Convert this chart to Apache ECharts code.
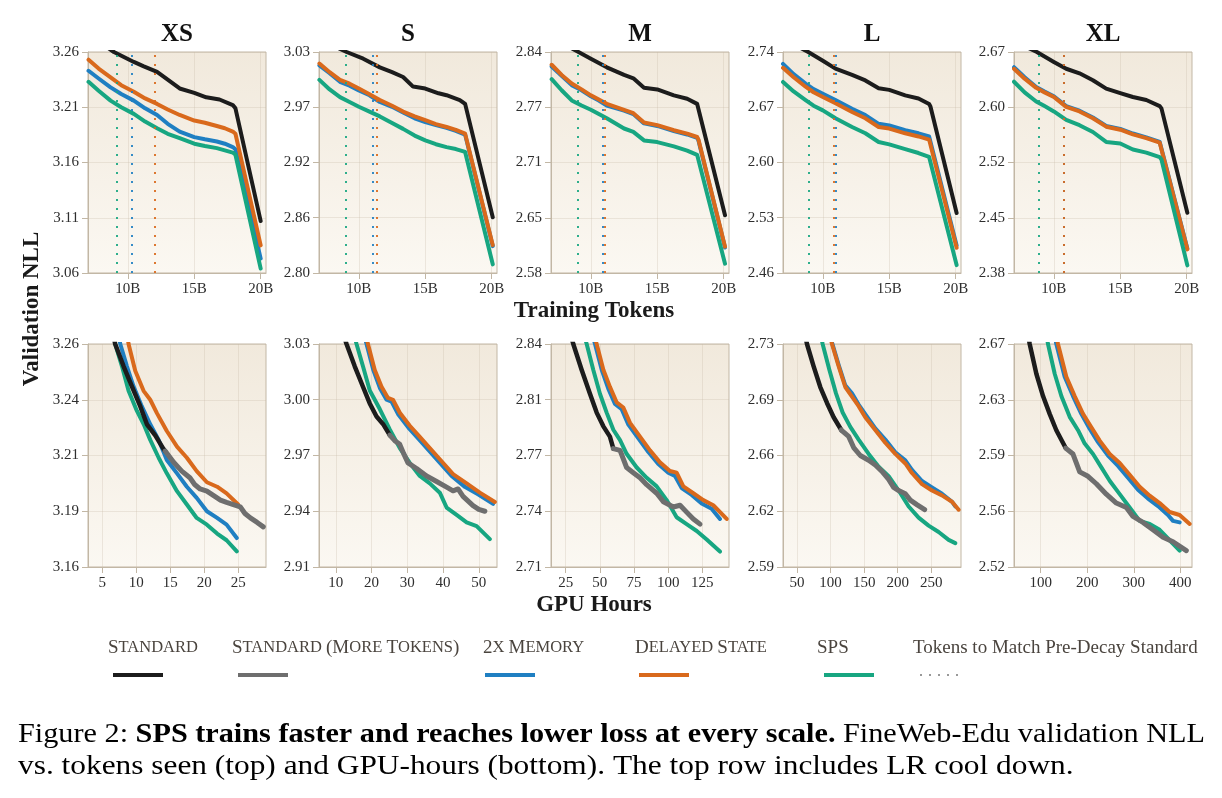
<!DOCTYPE html>
<html>
<head>
<meta charset="utf-8">
<script src="https://cdn.jsdelivr.net/npm/echarts@6/dist/echarts.min.js"></script>
<style>
  html, body { margin: 0; padding: 0; background: #fff; }
  #chart { width: 1222px; height: 798px; }
</style>
</head>
<body>
<div id="chart"></div>
<script>
// 模型规模
const scales = ['XS', 'S', 'M', 'L', 'XL'];

// 上排：训练 token（B）
const tokXRange = [7.0, 20.4];
const tokXTicks = [10, 15, 20];
const tokYRange = [[3.06, 3.26], [2.80, 3.03], [2.58, 2.84], [2.46, 2.74], [2.38, 2.67]];
const tokYLabels = [
  ['3.06', '3.11', '3.16', '3.21', '3.26'],
  ['2.80', '2.86', '2.92', '2.97', '3.03'],
  ['2.58', '2.65', '2.71', '2.77', '2.84'],
  ['2.46', '2.53', '2.60', '2.67', '2.74'],
  ['2.38', '2.45', '2.52', '2.60', '2.67'],
];

// 下排：GPU 小时
const gpuXRange = [[2.9, 29.1], [5.3, 55.1], [14.3, 144.5], [29.2, 294.2], [42.7, 425]];
const gpuXTicks = [[5, 10, 15, 20, 25], [10, 20, 30, 40, 50], [25, 50, 75, 100, 125], [50, 100, 150, 200, 250], [100, 200, 300, 400]];
const gpuYRange = [[3.16, 3.26], [2.91, 3.03], [2.71, 2.84], [2.59, 2.73], [2.52, 2.67]];
const gpuYLabels = [
  ['3.16', '3.19', '3.21', '3.24', '3.26'],
  ['2.91', '2.94', '2.97', '3.00', '3.03'],
  ['2.71', '2.74', '2.77', '2.81', '2.84'],
  ['2.59', '2.62', '2.66', '2.69', '2.73'],
  ['2.52', '2.56', '2.59', '2.63', '2.67'],
];

// 上排曲线 [tokens(B), NLL]
const tokStandard = [
  [[7.0,3.278],[8.0,3.268],[8.95,3.260],[10.45,3.251],[11.2,3.247],[12.2,3.242],[13.0,3.235],[13.9,3.227],[15.0,3.223],[15.9,3.219],[16.9,3.217],[17.9,3.212],[18.1,3.209],[20.0,3.107]],
  [[7.0,3.045],[8.0,3.037],[9.08,3.030],[10.33,3.023],[11.58,3.014],[12.5,3.009],[13.33,3.004],[14.08,2.994],[15.0,2.992],[16.0,2.987],[16.6,2.985],[17.6,2.980],[18.0,2.976],[18.1,2.975],[20.08,2.858]],
  [[7.0,2.858],[8.0,2.849],[9.07,2.840],[10.0,2.832],[11.2,2.822],[12.5,2.813],[13.2,2.809],[14.0,2.798],[15.0,2.796],[16.25,2.789],[17.25,2.785],[18.0,2.779],[18.1,2.777],[20.1,2.648]],
  [[7.0,2.758],[8.0,2.748],[8.9,2.740],[10.0,2.729],[10.95,2.719],[12.2,2.711],[13.2,2.704],[14.2,2.694],[15.0,2.692],[16.2,2.685],[17.2,2.681],[18.0,2.674],[18.1,2.671],[20.07,2.536]],
  [[7.0,2.683],[8.0,2.676],[8.72,2.670],[10.0,2.657],[10.93,2.648],[11.93,2.642],[12.94,2.633],[13.94,2.622],[15.0,2.616],[15.95,2.611],[16.96,2.607],[17.97,2.599],[18.1,2.596],[20.05,2.459]],
];
const tokMemory = [
  [[7.04,3.243],[7.8,3.236],[8.7,3.228],[9.5,3.222],[10.45,3.216],[11.3,3.209],[12.2,3.203],[13.0,3.195],[13.9,3.188],[15.0,3.183],[15.8,3.181],[16.7,3.179],[17.3,3.177],[17.9,3.174],[18.1,3.172],[20.0,3.073]],
  [[7.03,3.016],[7.8,3.008],[8.58,2.999],[9.3,2.995],[10.0,2.990],[10.8,2.985],[11.58,2.978],[12.5,2.973],[13.33,2.967],[14.2,2.961],[15.0,2.957],[15.8,2.954],[16.6,2.951],[17.3,2.948],[18.0,2.944],[18.1,2.943],[20.08,2.828]],
  [[7.05,2.823],[7.8,2.812],[8.56,2.801],[9.3,2.795],[10.0,2.788],[10.6,2.783],[11.2,2.777],[12.5,2.771],[13.2,2.767],[14.0,2.756],[15.0,2.753],[16.25,2.747],[17.25,2.743],[18.0,2.739],[18.1,2.736],[20.1,2.610]],
  [[7.0,2.725],[7.8,2.712],[8.7,2.700],[9.3,2.693],[10.0,2.687],[10.95,2.679],[12.2,2.668],[13.2,2.660],[14.2,2.649],[15.0,2.647],[16.2,2.641],[17.2,2.637],[18.0,2.633],[18.1,2.631],[20.07,2.495]],
  [[7.0,2.650],[7.8,2.637],[8.67,2.624],[9.3,2.618],[10.0,2.612],[10.93,2.599],[11.93,2.593],[12.94,2.584],[13.94,2.573],[15.0,2.569],[15.95,2.563],[16.96,2.558],[17.97,2.552],[18.1,2.550],[20.05,2.412]],
];
const tokDelayed = [
  [[7.04,3.253],[7.8,3.245],[8.7,3.237],[9.5,3.230],[10.45,3.224],[11.3,3.218],[12.2,3.213],[13.0,3.208],[13.9,3.203],[15.0,3.198],[15.8,3.196],[16.7,3.193],[17.3,3.191],[17.9,3.188],[18.1,3.186],[20.0,3.085]],
  [[7.03,3.018],[7.8,3.009],[8.58,3.001],[9.3,2.997],[10.0,2.992],[10.8,2.986],[11.58,2.980],[12.5,2.974],[13.33,2.968],[14.2,2.963],[15.0,2.959],[15.8,2.955],[16.6,2.952],[17.3,2.949],[18.0,2.945],[18.1,2.944],[20.08,2.829]],
  [[7.05,2.825],[7.8,2.813],[8.56,2.803],[9.3,2.796],[10.0,2.789],[10.6,2.784],[11.2,2.779],[12.5,2.772],[13.2,2.768],[14.0,2.757],[15.0,2.754],[16.25,2.748],[17.25,2.744],[18.0,2.740],[18.1,2.737],[20.1,2.611]],
  [[7.0,2.720],[7.8,2.708],[8.7,2.696],[9.3,2.689],[10.0,2.683],[10.95,2.675],[12.2,2.664],[13.2,2.656],[14.2,2.645],[15.0,2.643],[16.2,2.637],[17.2,2.633],[18.0,2.629],[18.1,2.627],[20.07,2.492]],
  [[7.0,2.648],[7.8,2.635],[8.67,2.623],[9.3,2.617],[10.0,2.611],[10.93,2.598],[11.93,2.592],[12.94,2.583],[13.94,2.572],[15.0,2.568],[15.95,2.562],[16.96,2.557],[17.97,2.551],[18.1,2.549],[20.05,2.411]],
];
const tokSps = [
  [[7.04,3.233],[7.8,3.225],[8.7,3.216],[9.5,3.210],[10.45,3.204],[11.3,3.197],[12.2,3.191],[13.0,3.186],[13.9,3.182],[15.0,3.177],[15.8,3.175],[16.7,3.173],[17.3,3.171],[17.9,3.169],[18.1,3.167],[20.0,3.064]],
  [[7.03,3.001],[7.8,2.991],[8.58,2.983],[9.3,2.978],[10.0,2.973],[10.8,2.968],[11.58,2.963],[12.5,2.956],[13.33,2.950],[14.2,2.943],[15.0,2.938],[15.8,2.934],[16.6,2.931],[17.3,2.929],[18.0,2.926],[18.1,2.924],[20.08,2.809]],
  [[7.05,2.808],[7.8,2.795],[8.56,2.783],[9.3,2.777],[10.0,2.772],[10.6,2.767],[11.2,2.762],[12.5,2.750],[13.2,2.746],[14.0,2.736],[15.0,2.734],[16.25,2.729],[17.25,2.724],[18.0,2.719],[18.1,2.717],[20.1,2.591]],
  [[7.0,2.702],[7.8,2.690],[8.7,2.679],[9.3,2.672],[10.0,2.666],[10.95,2.656],[12.2,2.645],[13.2,2.637],[14.2,2.626],[15.0,2.623],[16.2,2.617],[17.2,2.612],[18.0,2.607],[18.1,2.605],[20.07,2.470]],
  [[7.0,2.631],[7.8,2.617],[8.67,2.605],[9.3,2.599],[10.0,2.592],[10.93,2.581],[11.93,2.574],[12.94,2.565],[13.94,2.552],[15.0,2.550],[15.95,2.542],[16.96,2.538],[17.97,2.532],[18.1,2.529],[20.05,2.390]],
];

// 达到 Standard 衰减前损失所需 token（虚线）
const matchSps = [9.16, 9.03, 8.99, 8.94, 8.87];
const matchMemory = [10.33, 11.08, 10.86, 11.0, 10.73];
const matchDelayed = [12.0, 11.33, 11.06, 10.85, 10.78];

// 下排曲线 [GPU 小时, NLL]
const gpuStandard = [
  [[6.4,3.268],[6.9,3.260],[8.14,3.250],[9.36,3.241],[10.6,3.232],[11.57,3.224],[12.8,3.219],[14.0,3.213],[14.26,3.212]],
  [[12.0,3.036],[13.0,3.030],[15.3,3.018],[17.6,3.007],[19.5,2.998],[21.4,2.991],[23.2,2.987],[25.1,2.981]],
  [[28.5,2.846],[30.6,2.840],[36.7,2.825],[42.8,2.811],[47.7,2.800],[52.6,2.792],[57.4,2.786],[59.9,2.779]],
  [[61.0,2.738],[64.9,2.730],[74.8,2.716],[84.7,2.703],[94.7,2.693],[104.6,2.684],[116.0,2.676]],
  [[72.0,2.678],[76.4,2.670],[90.7,2.650],[105.0,2.635],[119.3,2.623],[133.6,2.612],[153.7,2.600]],
];
const gpuMoreTokens = [
  [[14.26,3.212],[15.5,3.207],[16.7,3.203],[17.9,3.200],[18.6,3.197],[19.4,3.195],[20.4,3.194],[21.4,3.192],[22.4,3.190],[23.3,3.189],[24.3,3.188],[25.3,3.187],[26.0,3.184],[26.8,3.182],[27.8,3.180],[28.7,3.178]],
  [[25.1,2.981],[26.5,2.978],[27.9,2.976],[29.0,2.971],[30.2,2.966],[32.6,2.963],[35.4,2.959],[38.2,2.956],[41.0,2.953],[42.8,2.951],[44.2,2.952],[45.6,2.948],[48.4,2.943],[50.0,2.941],[51.7,2.940]],
  [[59.9,2.779],[64.8,2.778],[69.6,2.768],[74.5,2.765],[79.4,2.762],[84.3,2.758],[91.6,2.753],[96.5,2.748],[103.8,2.745],[108.7,2.746],[113.5,2.742],[118.4,2.738],[123.3,2.735]],
  [[116.0,2.676],[126.9,2.672],[134.4,2.665],[144.3,2.660],[156.7,2.657],[166.6,2.654],[176.6,2.650],[186.5,2.645],[193.9,2.640],[201.4,2.638],[211.3,2.636],[218.7,2.632],[229.0,2.629],[240.1,2.626]],
  [[153.7,2.600],[169.4,2.596],[183.8,2.584],[201.6,2.581],[219.5,2.576],[241.0,2.569],[262.5,2.563],[284.0,2.560],[298.3,2.554],[319.8,2.550],[341.2,2.545],[362.7,2.540],[384.2,2.537],[412.8,2.531]],
];
const gpuMemory = [
  [[7.2,3.268],[7.65,3.260],[8.63,3.250],[9.6,3.241],[10.83,3.232],[12.06,3.224],[13.3,3.217],[14.5,3.208],[16.0,3.202],[17.45,3.196],[18.9,3.191],[20.4,3.185],[21.9,3.182],[23.3,3.179],[24.8,3.173]],
  [[17.8,3.036],[18.6,3.030],[20.5,3.016],[22.4,3.006],[24.2,3.000],[25.6,2.999],[27.5,2.992],[30.3,2.985],[33.1,2.979],[35.9,2.973],[38.7,2.967],[42.4,2.959],[46.2,2.953],[49.9,2.949],[54.0,2.944]],
  [[44.3,2.846],[46.5,2.840],[51.4,2.825],[56.2,2.814],[61.1,2.805],[66.0,2.802],[70.9,2.793],[78.2,2.785],[85.5,2.777],[92.8,2.770],[100.1,2.765],[105.0,2.763],[109.9,2.756],[117.2,2.752],[124.5,2.747],[131.8,2.744],[137.9,2.738]],
  [[98.0,2.739],[102.1,2.731],[112.0,2.717],[121.9,2.704],[131.9,2.699],[141.8,2.692],[151.7,2.686],[166.6,2.677],[181.5,2.670],[196.4,2.662],[211.3,2.657],[221.2,2.651],[236.1,2.644],[251.0,2.640],[265.9,2.636],[280.8,2.631],[285.7,2.628]],
  [[128.5,2.678],[133.6,2.670],[151.5,2.648],[169.4,2.635],[187.3,2.623],[205.2,2.613],[223.1,2.604],[244.6,2.595],[266.1,2.588],[287.5,2.580],[309.0,2.572],[330.5,2.566],[351.9,2.561],[373.4,2.555],[384.2,2.551],[398.5,2.550]],
];
const gpuDelayed = [
  [[8.5,3.268],[8.87,3.260],[9.85,3.248],[11.08,3.239],[12.06,3.235],[13.04,3.229],[14.5,3.221],[16.0,3.214],[17.45,3.209],[18.9,3.203],[20.4,3.198],[21.9,3.196],[23.3,3.193],[25.0,3.188]],
  [[18.2,3.036],[19.0,3.030],[20.9,3.016],[22.8,3.007],[24.6,3.001],[26.0,3.000],[27.9,2.993],[30.7,2.986],[33.5,2.980],[36.3,2.974],[39.1,2.968],[42.8,2.960],[46.6,2.955],[50.3,2.950],[54.5,2.945]],
  [[45.5,2.846],[47.7,2.840],[52.6,2.825],[57.4,2.815],[62.3,2.806],[67.2,2.803],[72.1,2.794],[79.4,2.786],[86.7,2.778],[94.0,2.771],[101.3,2.766],[106.2,2.765],[111.1,2.757],[118.4,2.753],[125.7,2.749],[133.0,2.746],[142.8,2.738]],
  [[98.0,2.738],[102.1,2.730],[112.0,2.716],[121.9,2.703],[131.9,2.697],[141.8,2.691],[151.7,2.684],[166.6,2.676],[181.5,2.668],[196.4,2.661],[211.3,2.655],[221.2,2.649],[236.1,2.642],[251.0,2.638],[265.9,2.635],[280.8,2.631],[290.7,2.626]],
  [[132.0,2.678],[137.2,2.670],[155.1,2.648],[173.0,2.635],[190.9,2.623],[208.8,2.614],[226.7,2.605],[248.2,2.596],[269.7,2.590],[291.1,2.582],[312.6,2.574],[334.1,2.568],[355.5,2.563],[377.0,2.557],[398.5,2.555],[420.0,2.549]],
];
const gpuSps = [
  [[6.5,3.268],[6.9,3.260],[7.9,3.250],[8.87,3.239],[10.1,3.230],[11.1,3.224],[12.06,3.217],[13.3,3.209],[14.5,3.202],[16.0,3.194],[17.45,3.188],[18.9,3.182],[20.4,3.179],[21.9,3.175],[23.3,3.172],[24.8,3.167]],
  [[15.0,3.036],[15.8,3.030],[17.6,3.018],[19.5,3.005],[22.3,2.995],[25.1,2.984],[27.9,2.974],[30.7,2.966],[33.5,2.959],[36.3,2.955],[39.1,2.950],[41.0,2.942],[43.8,2.938],[46.6,2.934],[49.4,2.932],[53.1,2.925]],
  [[38.2,2.846],[40.4,2.840],[45.2,2.825],[50.1,2.811],[55.0,2.800],[59.9,2.790],[64.8,2.784],[69.6,2.776],[77.0,2.768],[84.3,2.762],[91.6,2.757],[98.9,2.749],[106.2,2.739],[113.5,2.735],[120.9,2.731],[128.2,2.726],[137.9,2.719]],
  [[84.5,2.738],[88.2,2.730],[98.1,2.714],[108.1,2.699],[118.0,2.687],[129.4,2.678],[141.8,2.670],[156.7,2.661],[171.6,2.653],[186.5,2.647],[201.4,2.638],[216.3,2.628],[231.1,2.621],[246.0,2.616],[260.9,2.612],[275.8,2.607],[285.7,2.605]],
  [[111.0,2.678],[115.7,2.670],[130.1,2.650],[144.4,2.635],[162.3,2.621],[180.2,2.612],[194.5,2.603],[212.4,2.596],[230.3,2.587],[248.2,2.578],[269.7,2.569],[291.1,2.560],[312.6,2.551],[334.1,2.549],[355.5,2.545],[377.0,2.538],[398.5,2.531]],
];

// 颜色
const C = {
  standard: '#1c1c1c',
  more: '#6e6e6e',
  memory: '#1f7fc2',
  delayed: '#d9691c',
  sps: '#17a681',
};

const FONT = 'Liberation Serif';
const AXIS_COLOR = '#c2b7a5';
const GRID_LINE = 'rgba(196,184,165,0.28)';
const colLeft = [88, 319, 551, 783, 1014];
const plotW = 178;
const rowTop = [52, 344];
const rowH = [221, 223];

const grids = [], xAxes = [], yAxes = [], series = [];

const makeTicks = (range) => [0, 1, 2, 3, 4].map(i => range[0] + (range[1] - range[0]) * i / 4);

function addPanel(row, col, xRange, xTicks, xFmt, yRange, yLabels) {
  const g = grids.length;
  grids.push({
    left: colLeft[col], top: rowTop[row], width: plotW, height: rowH[row],
    show: true, borderColor: AXIS_COLOR, borderWidth: 1,
    backgroundColor: new echarts.graphic.LinearGradient(0, 0, 0, 1, [
      { offset: 0, color: '#f1e9dc' },
      { offset: 1, color: '#fbf8f2' },
    ]),
  });
  xAxes.push({
    type: 'value', gridIndex: g, min: xRange[0], max: xRange[1],
    axisLine: { show: true, onZero: false, lineStyle: { color: AXIS_COLOR } },
    axisTick: { show: true, length: 6, customValues: xTicks, lineStyle: { color: AXIS_COLOR } },
    axisLabel: { customValues: xTicks, formatter: xFmt, margin: 9, fontSize: 15, color: '#2e2e2e', fontFamily: FONT },
    splitLine: { show: true, lineStyle: { color: GRID_LINE } },
  });
  const yTicks = makeTicks(yRange);
  yAxes.push({
    type: 'value', gridIndex: g, min: yRange[0], max: yRange[1],
    axisLine: { show: true, onZero: false, lineStyle: { color: AXIS_COLOR } },
    axisTick: { show: true, length: 6, customValues: yTicks, lineStyle: { color: AXIS_COLOR } },
    axisLabel: {
      customValues: yTicks, margin: 9, fontSize: 15, color: '#2e2e2e', fontFamily: FONT,
      formatter: v => yLabels[Math.round((v - yRange[0]) / (yRange[1] - yRange[0]) * 4)],
    },
    splitLine: { show: true, lineStyle: { color: GRID_LINE } },
  });
  return g;
}

function line(g, data, color, width, markX) {
  const s = {
    type: 'line', xAxisIndex: g, yAxisIndex: g, data,
    showSymbol: false, symbol: 'none', silent: true, clip: true,
    color, lineStyle: { color, width, join: 'round', cap: 'round' },
  };
  if (markX !== undefined) {
    s.markLine = {
      silent: true, symbol: ['none', 'none'], label: { show: false },
      lineStyle: { color, width: 2, type: [2, 7], opacity: 0.9 },
      data: [{ xAxis: markX }],
    };
  }
  series.push(s);
}

scales.forEach((name, i) => {
  // 上排
  const g1 = addPanel(0, i, tokXRange, tokXTicks, v => v + 'B', tokYRange[i], tokYLabels[i]);
  line(g1, tokMemory[i], C.memory, 4, matchMemory[i]);
  line(g1, tokDelayed[i], C.delayed, 4, matchDelayed[i]);
  line(g1, tokSps[i], C.sps, 4, matchSps[i]);
  line(g1, tokStandard[i], C.standard, 4);
  // 下排
  const g2 = addPanel(1, i, gpuXRange[i], gpuXTicks[i], v => String(v), gpuYRange[i], gpuYLabels[i]);
  line(g2, gpuMemory[i], C.memory, 4);
  line(g2, gpuDelayed[i], C.delayed, 4);
  line(g2, gpuSps[i], C.sps, 4);
  line(g2, gpuStandard[i], C.standard, 4.5);
  line(g2, gpuMoreTokens[i], C.more, 5);
});

// 文字：标题、轴名
const graphics = [];
scales.forEach((name, i) => {
  graphics.push({
    type: 'text', x: colLeft[i] + plotW / 2, y: 35,
    style: { text: name, fontFamily: FONT, fontWeight: 'bold', fontSize: 25, fill: '#111', align: 'center', verticalAlign: 'middle' },
  });
});
graphics.push(
  { type: 'text', x: 594, y: 311, style: { text: 'Training Tokens', fontFamily: FONT, fontWeight: 'bold', fontSize: 23, fill: '#1a1a1a', align: 'center', verticalAlign: 'middle' } },
  { type: 'text', x: 594, y: 605, style: { text: 'GPU Hours', fontFamily: FONT, fontWeight: 'bold', fontSize: 23, fill: '#1a1a1a', align: 'center', verticalAlign: 'middle' } },
  { type: 'text', x: 32, y: 309, rotation: Math.PI / 2, style: { text: 'Validation NLL', fontFamily: FONT, fontWeight: 'bold', fontSize: 23, fill: '#1a1a1a', align: 'center', verticalAlign: 'middle' } },
);

// 图例（小型大写字母）
const legendItems = [
  { text: '{b|S}{s|TANDARD}', x: 108, x1: 113, x2: 163, color: C.standard },
  { text: '{b|S}{s|TANDARD} {b|(M}{s|ORE} {b|T}{s|OKENS}{b|)}', x: 232, x1: 238, x2: 288, color: C.more },
  { text: '{b|2}{s|X} {b|M}{s|EMORY}', x: 483, x1: 485, x2: 535, color: C.memory },
  { text: '{b|D}{s|ELAYED} {b|S}{s|TATE}', x: 635, x1: 639, x2: 689, color: C.delayed },
  { text: '{b|SPS}', x: 817, x1: 824, x2: 874, color: C.sps },
  { text: '{b|Tokens to Match Pre-Decay Standard}', x: 913, x1: 920, x2: 960, color: '#999', dotted: true },
];
legendItems.forEach(it => {
  graphics.push({
    type: 'text', x: it.x, y: 648,
    style: {
      text: it.text, fontFamily: FONT, fontSize: 16.5, fill: '#4a443e', align: 'left', verticalAlign: 'middle',
      rich: {
        b: { fontFamily: FONT, fontSize: 19, fill: '#4a443e' },
        s: { fontFamily: FONT, fontSize: 16.5, fill: '#4a443e' },
      },
    },
  });
  graphics.push({
    type: 'line', shape: { x1: it.x1, y1: 675, x2: it.x2, y2: 675 },
    style: it.dotted
      ? { stroke: it.color, lineWidth: 2, lineDash: [2, 7] }
      : { stroke: it.color, lineWidth: 4 },
  });
});

// 图注（横向略拉伸以匹配原图行宽）
const capRich = {
  n: { fontFamily: FONT, fontSize: 28, fill: '#000' },
  b: { fontFamily: FONT, fontSize: 28, fontWeight: 'bold', fill: '#000' },
};
graphics.push(
  { type: 'text', x: 18, y: 735, scaleX: 1.08, style: { text: '{n|Figure 2: }{b|SPS trains faster and reaches lower loss at every scale.}{n| FineWeb-Edu validation NLL}', rich: capRich, fontFamily: FONT, fontSize: 28, verticalAlign: 'middle' } },
  { type: 'text', x: 18, y: 767, scaleX: 1.12, style: { text: '{n|vs. tokens seen (top) and GPU-hours (bottom). The top row includes LR cool down.}', rich: capRich, fontFamily: FONT, fontSize: 28, verticalAlign: 'middle' } },
);

const chart = echarts.init(document.getElementById('chart'), null, { renderer: 'canvas' });
chart.setOption({
  animation: false,
  backgroundColor: '#fff',
  textStyle: { fontFamily: FONT },
  grid: grids,
  xAxis: xAxes,
  yAxis: yAxes,
  series,
  graphic: graphics,
});
</script>
</body>
</html>
